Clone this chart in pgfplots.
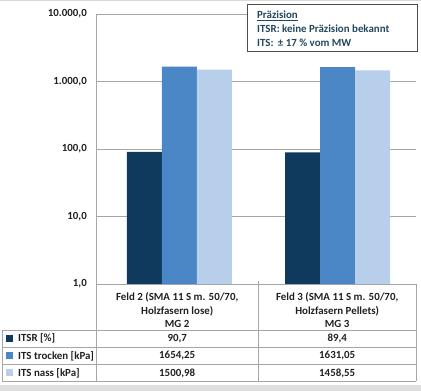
\documentclass[border=0pt]{standalone}
\usepackage{pgfplots}
\pgfplotsset{compat=1.18}
\usepackage{pgfplotstable}
\usepackage{fontspec}
\setmainfont{Carlito}
\definecolor{cdark}{HTML}{10395E}
\definecolor{cmid}{HTML}{4B87C7}
\definecolor{clight}{HTML}{B7CFEA}
\definecolor{ctxt}{HTML}{202020}
\definecolor{cbox}{HTML}{23475F}
\definecolor{cgrid}{HTML}{A6A6A6}
\pgfplotstableread{
x itsr trocken nass
0 90.7 1654.25 1500.98
1 89.4 1631.05 1458.55
}\datatab
\begin{document}
\begin{tikzpicture}[x=1pt,y=1pt,font=\fontsize{10.9}{12}\selectfont\bfseries]
\useasboundingbox (-96,-107) rectangle (325,284);
\begin{axis}[
  at={(0,0)}, anchor=south west,
  scale only axis, width=320pt, height=270pt,
  ymode=log, ymin=1, ymax=10000,
  xmin=-0.527, xmax=1.496,
  ytick={1,10,100,1000,10000},
  yticklabels={1{,}0,10{,}0,100{,}0,1.000{,}0,10.000{,}0},
  yminorticks=false,
  xtick=\empty,
  major tick length=0pt,
  ymajorgrids, grid style={cgrid, line width=0.8pt},
  axis x line*=bottom, axis y line*=left,
  axis line style={cgrid, line width=0.8pt, -},
  yticklabel style={text=ctxt, font=\fontsize{10.9}{12}\selectfont\bfseries, inner sep=0pt, xshift=-9pt},
  ybar=0pt, bar width=35pt,
  clip=false,
]
\addplot[fill=cdark, draw=none, bar shift=-35pt] table[x=x,y=itsr] {\datatab};
\addplot[fill=cmid, draw=none, bar shift=0pt] table[x=x,y=trocken] {\datatab};
\addplot[fill=clight, draw=none, bar shift=35pt] table[x=x,y=nass] {\datatab};
\end{axis}
% Precision box
\node[draw=ctxt!80, line width=0.8pt, fill=white, anchor=north west, minimum width=170pt, minimum height=47pt, inner sep=0pt] at (151,280) {};
\node[anchor=west, text=cbox, inner sep=0pt] at (161,268) {\underline{Präzision}};
\node[anchor=west, text=cbox, inner sep=0pt] at (161,255) {ITSR: keine Präzision bekannt};
\node[anchor=west, text=cbox, inner sep=0pt] at (161,241) {ITS:\, ± 17 \% vom MW};
% data table
\begin{scope}[draw=cgrid, line width=0.8pt]
\draw (-94,-46) -- (320,-46);
\draw (-94,-63.7) -- (320,-63.7);
\draw (-94,-80.3) -- (320,-80.3);
\draw (-94,-97) -- (320,-97);
\draw (-94,-46) -- (-94,-97);
\draw (0,0) -- (0,-97);
\draw (162.4,3) -- (162.4,-97);
\draw (320,0) -- (320,-97);
\end{scope}
\begin{scope}[text=ctxt, inner sep=0pt]
\node at (81.2,-13) {Feld 2 (SMA 11 S m. 50/70,};
\node at (81.2,-27) {Holzfasern lose)};
\node at (81.2,-40) {MG 2};
\node at (241.2,-13) {Feld 3 (SMA 11 S m. 50/70,};
\node at (241.2,-27) {Holzfasern Pellets)};
\node at (241.2,-40) {MG 3};
\node at (81.2,-54.7) {90,7};
\node at (81.2,-72) {1654,25};
\node at (81.2,-89) {1500,98};
\node at (241.2,-54.7) {89,4};
\node at (241.2,-72) {1631,05};
\node at (241.2,-89) {1458,55};
\fill[cdark] (-90,-58.2) rectangle (-83,-51.2);
\fill[cmid] (-90,-75.5) rectangle (-83,-68.5);
\fill[clight] (-90,-92.5) rectangle (-83,-85.5);
\node[anchor=west] at (-78,-54.7) {ITSR [\%]};
\node[anchor=west] at (-78,-72) {ITS trocken [kPa]};
\node[anchor=west] at (-78,-89) {ITS nass [kPa]};
\end{scope}
% outer frame hints
\fill[gray!25] (-96,-107) rectangle (325,-101);
\draw[gray!30, line width=1pt] (-96,283.5) -- (325,283.5);
\end{tikzpicture}
\end{document}
